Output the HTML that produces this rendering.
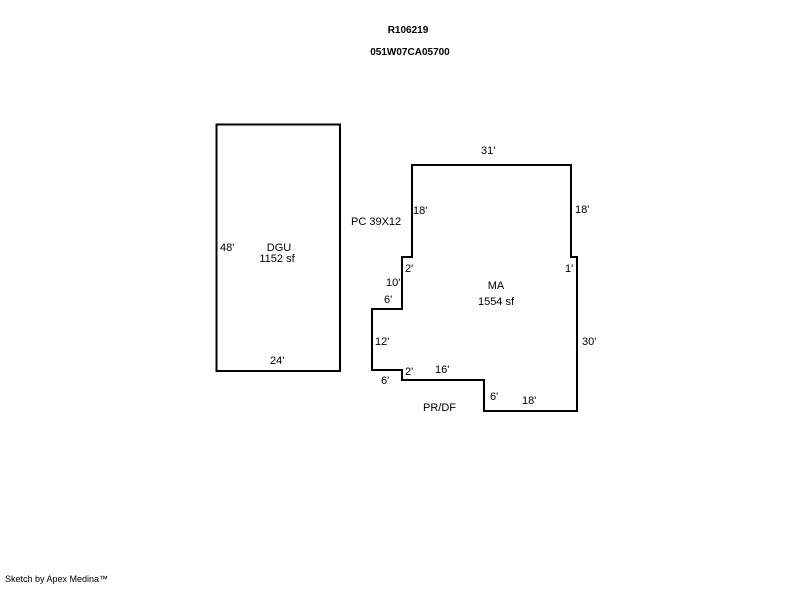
<!DOCTYPE html>
<html><head><style>
body{margin:0;background:#fff;}
svg text{font-family:"Liberation Sans",Arial,sans-serif;font-size:11px;fill:#000;}
</style></head><body>
<svg width="800" height="587" xmlns="http://www.w3.org/2000/svg">
<text x="408" y="33" text-anchor="middle" font-weight="bold" style="font-size:10px">R106219</text>
<text x="410" y="55" text-anchor="middle" font-weight="bold" style="font-size:10px">051W07CA05700</text>
<rect x="216.5" y="124.5" width="123.5" height="246.5" fill="none" stroke="#000" stroke-width="2"/>
<path d="M412 165 L571 165 L571 257 L577 257 L577 411 L484 411 L484 380 L402 380 L402 370 L372 370 L372 309 L402 309 L402 257 L412 257 Z" fill="none" stroke="#000" stroke-width="2"/>
<text x="279" y="251" text-anchor="middle">DGU</text>
<text x="277" y="262" text-anchor="middle">1152 sf</text>
<text x="220" y="251">48'</text>
<text x="270" y="364">24'</text>
<text x="481" y="154">31'</text>
<text x="351" y="225">PC 39X12</text>
<text x="413" y="214">18'</text>
<text x="575" y="213">18'</text>
<text x="405" y="272">2'</text>
<text x="565" y="272">1'</text>
<text x="496" y="289" text-anchor="middle">MA</text>
<text x="496" y="305" text-anchor="middle">1554 sf</text>
<text x="386" y="286">10'</text>
<text x="384" y="303">6'</text>
<text x="375" y="345">12'</text>
<text x="582" y="345">30'</text>
<text x="405" y="375">2'</text>
<text x="435" y="373">16'</text>
<text x="381" y="384">6'</text>
<text x="490" y="400">6'</text>
<text x="522" y="404">18'</text>
<text x="423" y="411">PR/DF</text>
<text x="5" y="582" style="font-size:9px">Sketch by Apex Medina™</text>
</svg>
</body></html>
